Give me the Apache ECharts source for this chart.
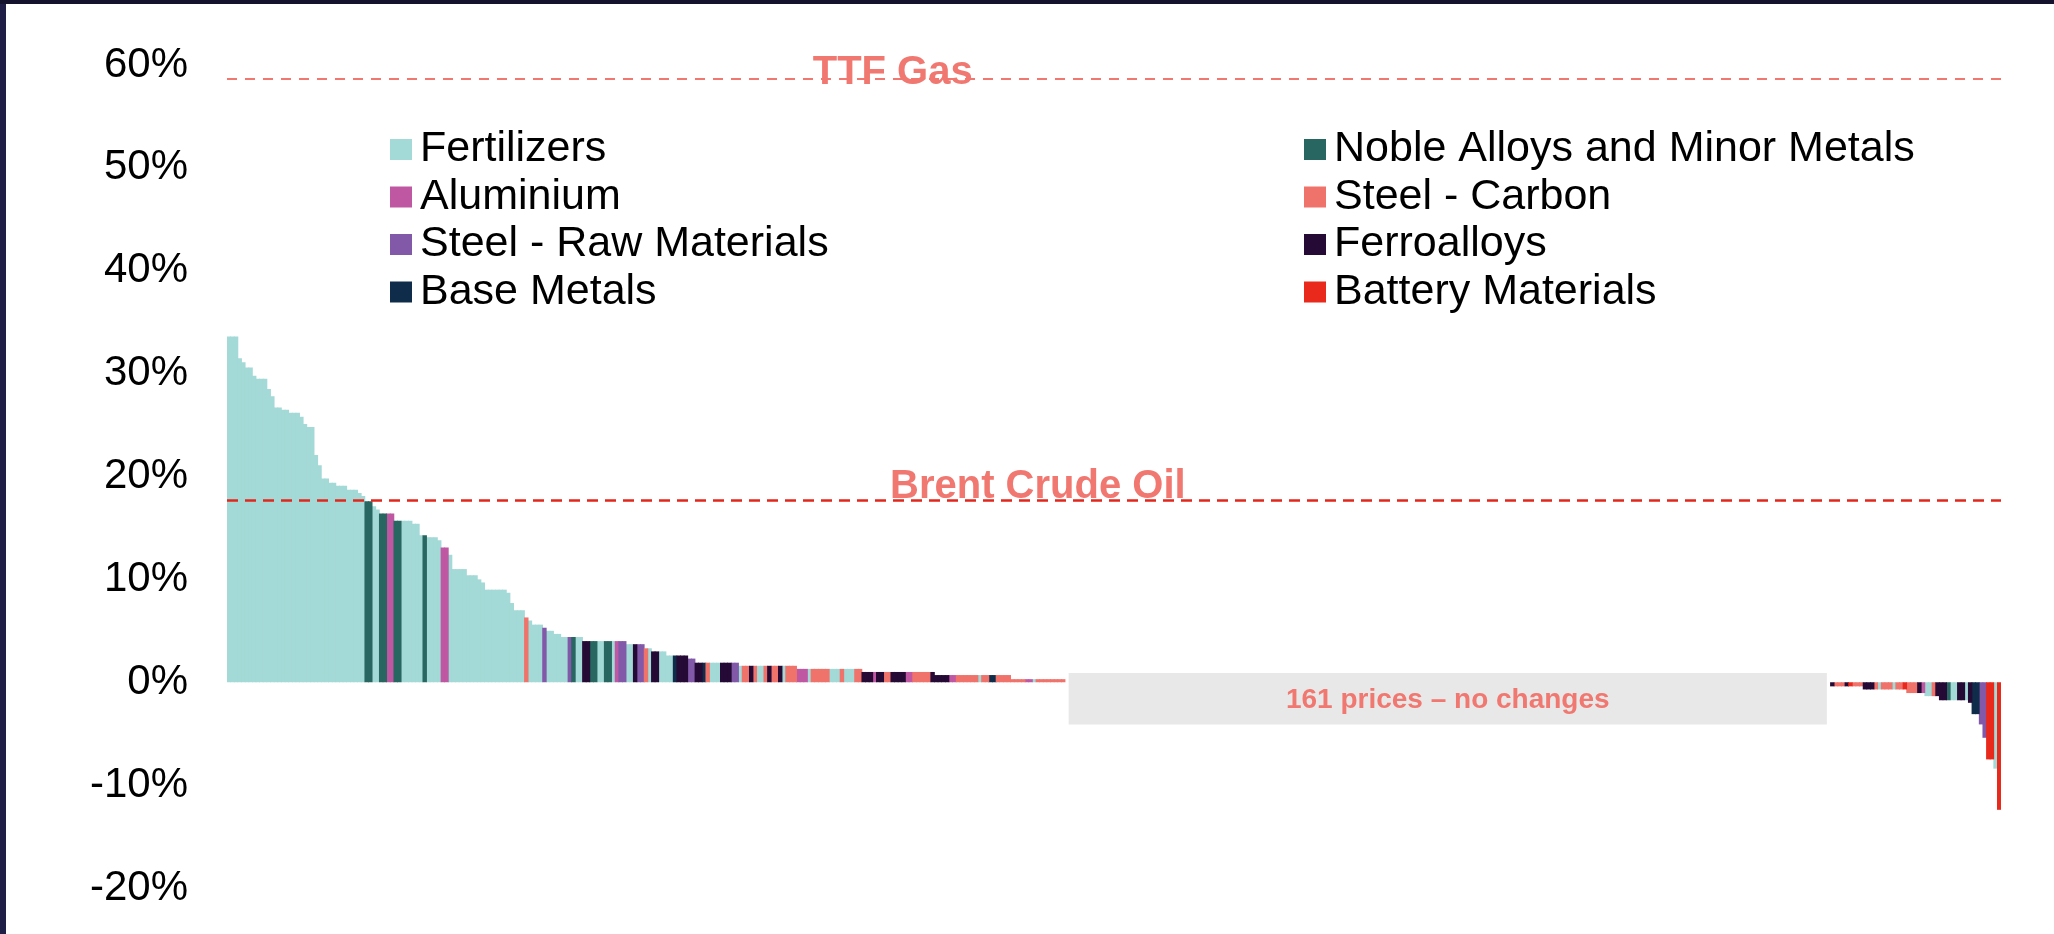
<!DOCTYPE html>
<html><head><meta charset="utf-8">
<script src="https://cdn.jsdelivr.net/npm/echarts@6/dist/echarts.min.js"></script>
<style>html,body{margin:0;padding:0;background:#fff}#c{width:2054px;height:934px}</style>
</head><body><div id="c"></div>
<script>
// ---------- DATA ----------
const groupNames = ['Fertilizers','Aluminium','Steel - Raw Materials','Base Metals',
                    'Noble Alloys and Minor Metals','Steel - Carbon','Ferroalloys','Battery Materials'];
const groupCodes = ['F','A','R','B','N','C','X','L'];

// price changes (%) that rose, sorted descending
const posValues = [
 33.6,33.6,33.6,31.5,31.1,30.6,30.6,29.8,29.5,29.5,29.5,28.5,27.8,26.7,26.7,26.5,26.5,26.2,26.2,26.2,
 25.8,25.1,24.8,24.8,22.1,21.1,19.8,19.8,19.4,19.4,19.1,19.1,19.1,18.7,18.7,18.7,18.4,18.1,
 17.6,17.6,17.1,16.8,16.4,16.4,16.4,16.4,15.7,15.7,15.7,15.7,15.7,15.4,15.4,14.3,14.3,14.1,14.1,14.1,
 13.8,13.1,13.1,12.4,11.0,11.0,11.0,11.0,10.4,10.4,10.4,10.0,9.7,9.0,9.0,9.0,9.0,9.0,9.0,8.7,7.7,
 7.0,7.0,7.0,6.3,6.0,5.6,5.6,5.6,5.3,5.0,5.0,4.7,4.7,4.4,4.4,4.4,4.4,4.4,4.4,4.0,4.0,4.0,4.0,
 4.0,4.0,4.0,4.0,4.0,4.0,4.0,4.0,
 3.7,3.7,3.7,3.7,3.7,
 3.3,3.3,
 3.0,3.0,3.0,3.0,
 2.6,2.6,2.6,2.6,2.6,2.6,
 2.3,2.3,
 1.9,1.9,1.9,1.9,1.9,1.9,1.9,1.9,1.9,1.9,1.9,1.9,
 1.6,1.6,1.6,1.6,1.6,1.6,1.6,1.6,1.6,1.6,1.6,1.6,1.6,1.6,1.6,1.6,
 1.3,1.3,1.3,1.3,1.3,1.3,1.3,1.3,1.3,1.3,1.3,1.3,1.3,1.3,1.3,1.3,1.3,1.3,
 1.0,1.0,1.0,1.0,1.0,1.0,1.0,1.0,1.0,1.0,1.0,1.0,1.0,1.0,1.0,1.0,1.0,1.0,1.0,1.0,
 0.7,0.7,0.7,0.7,0.7,0.7,0.7,0.7,0.7,0.7,0.7,0.7,0.7,0.7,0.7,0.7,0.7,0.7,0.7,0.7,0.7,
 0.3,0.3,0.3,0.3,0.3,0.3,0.3,0.3,0.3,0.3,0.3,0.3,0.3,0.3,0.3
];
const posGroups = [
 'F','F','F','F','F','F','F','F','F','F','F','F','F','F','F','F','F','F','F','F',
 'F','F','F','F','F','F','F','F','F','F','F','F','F','F','F','F','F','F',
 'N','N','F','F','N','N','A','A','N','N','F','F','F','F','F','F','N','F','F','F',
 'F','A','A','F','F','F','F','F','F','F','F','F','F','F','F','F','F','F','F','F','F',
 'F','F','F','C','F','F','F','F','R','F','F','F','F','F','F','R','N','F','F','X','X','N','N',
 'F','F','N','N','F','A','R','R',
 'F','F','X','R','R',
 'C','F',
 'X','X','F','F',
 'F','F','B','X','X','X',
 'R','R',
 'X','X','B','C','F','F','F','X','X','X','R','R',
 'F','C','C','X','C','F','F','C','X','C','C','X','F','C','C','C',
 'A','A','A','F','C','C','C','C','C','F','F','F','C','F','F','F','C','C',
 'X','X','X','A','X','X','C','C','X','X','X','X','A','A','C','C','C','C','C','X',
 'X','X','X','X','A','A','C','C','C','C','C','C','F','C','C','B','B','C','C','C','C',
 'C','C','C','C','A','A','F','C','C','C','C','C','C','C','C'
];
// prices without change (hidden behind the grey box)
const noChangeCount = 211;
const noChangeValues = new Array(noChangeCount).fill(0);
// price changes (%) that fell, sorted descending
const negValues = [
 -0.4,-0.4,-0.4,-0.4,-0.4,-0.4,-0.4,-0.4,-0.4,
 -0.7,-0.7,-0.7,-0.7,-0.7,-0.7,-0.7,-0.7,-0.7,-0.7,-0.7,-0.7,
 -1.05,-1.05,-1.05,-1.05,-1.05,
 -1.35,-1.35,-1.35,-1.35,
 -1.75,-1.75,-1.75,-1.75,-1.75,-1.75,-1.75,-1.75,
 -2.0,-3.1,-3.1,-4.1,-5.4,-7.5,-7.5,-8.4,-12.4
];
const negGroups = [
 'X','C','C','C','X','L','C','C','C',
 'X','X','X','C','F','C','C','C','F','C','C','L',
 'C','C','C','X','A',
 'F','F','C','X',
 'X','X','N','F','F','X','X','F',
 'X','B','B','R','R','L','L','F','L'
];
// reference lines
const refNames  = ['TTF Gas','Brent Crude Oil'];
const refValues = [58.7, 17.7];
const noChangeLabel = '161 prices \u2013 no changes';
const yMin = -20, yMax = 60, yStep = 10;

// ---------- STYLE ----------
const groupColors = {F:'#A3D9D6',A:'#BF57A3',R:'#8259A8',B:'#0F2D4A',N:'#276661',C:'#F0736B',X:'#250A36',L:'#E8291C'};
const FONT = '"Liberation Sans", Arial, Helvetica, sans-serif';
const SALMON = '#F07870';
const GRID = {left: 227, right: 53, top: 65, bottom: 46};

const allValues = posValues.concat(noChangeValues, negValues);
const allGroups = posGroups.concat(noChangeValues.map(() => null), negGroups);
const xCats = allValues.map((v, i) => String(i));
const bandPx = (2054 - GRID.left - GRID.right) / xCats.length;

const series = groupCodes.map((code, gi) => ({
  name: groupNames[gi],
  type: 'bar',
  stack: 'all',
  barWidth: bandPx + 0.8,
  itemStyle: {color: groupColors[code]},
  emphasis: {disabled: true},
  silent: true,
  animation: false,
  data: allValues.map((v, i) => (allGroups[i] === code ? v : '-'))
}));
series[0].markLine = {
  silent: true,
  symbol: ['none','none'],
  label: {show: false},
  animation: false,
  data: [
    {yAxis: refValues[0], lineStyle: {color: SALMON, type: [10, 8], width: 2}},
    {yAxis: refValues[1], lineStyle: {color: '#E3261C', type: [11, 7], width: 2.5}}
  ]
};

const legendText = {fontSize: 43, fontFamily: FONT, color: '#000', lineHeight: 39.5, padding: [0,0,8,3]};
const legendBase = {orient: 'vertical', top: 125.75, padding: 0, itemWidth: 22, itemHeight: 21,
                    itemGap: 0, icon: 'rect', selectedMode: false, textStyle: legendText};
const option = {
  animation: false,
  grid: Object.assign({containLabel: false}, GRID),
  xAxis: {type: 'category', data: xCats, show: false},
  yAxis: {
    type: 'value', min: yMin, max: yMax, interval: yStep,
    axisLine: {show: false}, axisTick: {show: false}, splitLine: {show: false},
    axisLabel: {formatter: '{value}%', fontSize: 42, fontFamily: FONT, color: '#000', margin: 39}
  },
  legend: [
    Object.assign({data: groupNames.slice(0,4), left: 390}, legendBase),
    Object.assign({data: groupNames.slice(4), left: 1304}, legendBase)
  ],
  series: series
};

const chart = echarts.init(document.getElementById('c'), null, {renderer: 'canvas'});
chart.setOption(option);

// annotations placed through the chart's own scales
const band = chart.convertToPixel({xAxisIndex: 0}, 1) - chart.convertToPixel({xAxisIndex: 0}, 0);
const boxFrom = 232, boxTo = 440;
const bx0 = chart.convertToPixel({xAxisIndex: 0}, boxFrom) - band / 2;
const bx1 = chart.convertToPixel({xAxisIndex: 0}, boxTo) + band / 2;
const by0 = chart.convertToPixel({yAxisIndex: 0}, 0.9);
const by1 = chart.convertToPixel({yAxisIndex: 0}, -4.1);
const ttfX = chart.convertToPixel({xAxisIndex: 0}, 183);
const ttfY = chart.convertToPixel({yAxisIndex: 0}, refValues[0]);
const brX = chart.convertToPixel({xAxisIndex: 0}, 223);
const brY = chart.convertToPixel({yAxisIndex: 0}, refValues[1]);

chart.setOption({
  graphic: [
    {type: 'rect', silent: true, z: 1, shape: {x: bx0, y: by0, width: bx1 - bx0, height: by1 - by0}, style: {fill: '#E8E8E8'}},
    {type: 'text', silent: true, z: 100, style: {text: noChangeLabel, x: (bx0 + bx1) / 2, y: (by0 + by1) / 2 + 2,
      textAlign: 'center', textVerticalAlign: 'middle', font: 'bold 28px ' + FONT, fill: SALMON}},
    {type: 'text', silent: true, z: 100, style: {text: refNames[0], x: ttfX, y: ttfY - 5,
      textAlign: 'center', textVerticalAlign: 'middle', font: 'bold 40px ' + FONT, fill: SALMON}},
    {type: 'text', silent: true, z: 100, style: {text: refNames[1], x: brX, y: brY - 13,
      textAlign: 'center', textVerticalAlign: 'middle', font: 'bold 40px ' + FONT, fill: SALMON}},
    {type: 'rect', silent: true, z: 100, shape: {x: 0, y: 0, width: 6, height: 934}, style: {fill: '#1E1E46'}},
    {type: 'rect', silent: true, z: 100, shape: {x: 0, y: 0, width: 2054, height: 4}, style: {fill: '#15122E'}}
  ]
});
</script></body></html>
